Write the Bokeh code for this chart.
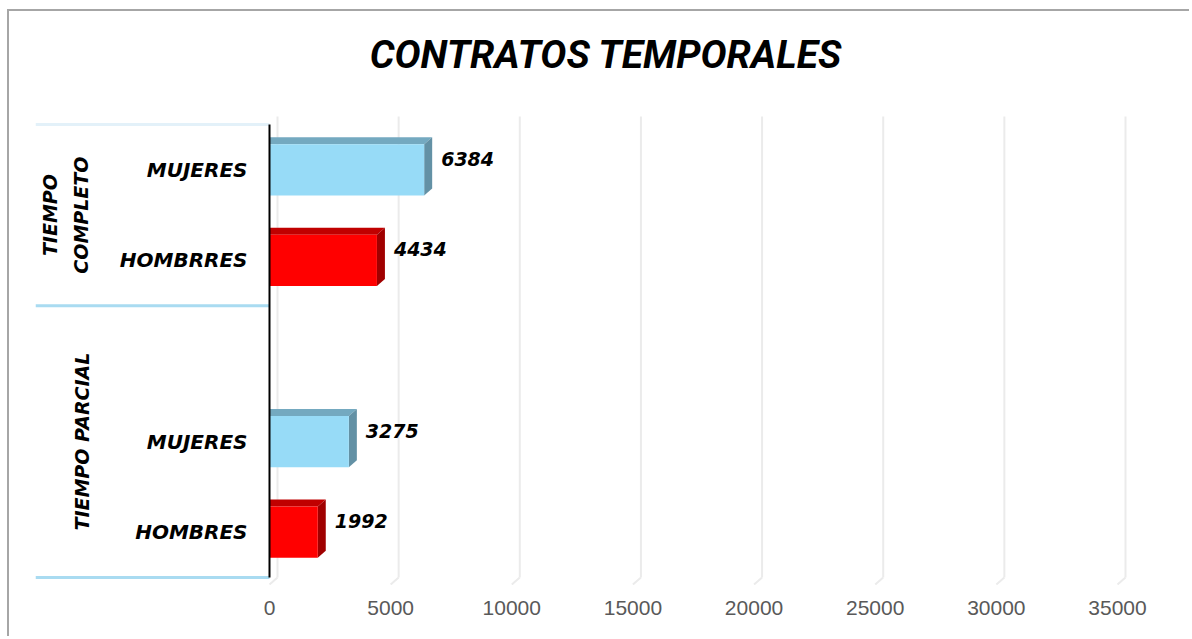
import math
from bokeh.plotting import figure
from bokeh.models import Range1d, FixedTicker, ColumnDataSource
from bokeh.embed import file_html
from bokeh.resources import INLINE
from bokeh.core.properties import value

# ---------------- data ----------------
TITLE = "CONTRATOS TEMPORALES"
GROUPS = ["TIEMPO COMPLETO", "TIEMPO PARCIAL"]
GROUP_LABELS = ["TIEMPO\nCOMPLETO", "TIEMPO PARCIAL"]
# categories of each group, top to bottom ("" = empty row of the original chart)
GROUP_CATS = {
    "TIEMPO COMPLETO": ["MUJERES", "HOMBRRES"],
    "TIEMPO PARCIAL": ["", "MUJERES", "HOMBRES"],
}
BAR_GROUPS = ["TIEMPO COMPLETO", "TIEMPO COMPLETO", "TIEMPO PARCIAL", "TIEMPO PARCIAL"]
BAR_CATS = ["MUJERES", "HOMBRRES", "MUJERES", "HOMBRES"]
BAR_VALUES = [6384, 4434, 3275, 1992]
X_TICKS = [0, 5000, 10000, 15000, 20000, 25000, 30000, 35000]

# ---------------- styles / layout ----------------
FRONT = {"MUJERES": "#97DBF7", "HOMBRRES": "#FF0000", "HOMBRES": "#FF0000"}
TOP = {"MUJERES": "#74A9C0", "HOMBRRES": "#C00000", "HOMBRES": "#C00000"}
SIDE = {"MUJERES": "#6391A5", "HOMBRRES": "#A00000", "HOMBRES": "#A00000"}
LABEL_FONT = "DejaVu Sans"

W, H = 1182, 627
ML, MR, MT, MB = 26, 21, 0, 53
FRAME_W = W - ML - MR
FRAME_H = H - MT - MB
ZERO_PX = 234            # pixel distance from frame left to value 0
AXIS_PX = 848            # pixels from 0 to the last tick
UNITS_PER_PX = X_TICKS[-1] / AXIS_PX
X_START = -ZERO_PX * UNITS_PER_PX
X_END = X_START + FRAME_W * UNITS_PER_PX

# rows, top to bottom
rows = [(g, c) for g in GROUPS for c in GROUP_CATS[g]]
N = len(rows)
SLOT_PX = 90.6
BOTTOM_PAD_PX = 8
Y_START = -BOTTOM_PAD_PX / SLOT_PX
Y_END = Y_START + FRAME_H / SLOT_PX
row_y = {k: N - i - 0.5 for i, k in enumerate(rows)}

BAR_H = 0.565
DX = 8 * UNITS_PER_PX      # 3-D depth, horizontal
DY = 7 / SLOT_PX           # 3-D depth, vertical

p = figure(width=W, height=H,
           x_range=Range1d(X_START, X_END), y_range=Range1d(Y_START, Y_END),
           y_axis_location=None, output_backend="svg", toolbar_location=None,
           min_border_left=ML, min_border_right=MR, min_border_top=MT, min_border_bottom=MB)
p.styles = {"margin-left": "7px", "margin-top": "9px",
            "border-left": "2px solid #A6A6A6", "border-top": "2px solid #A6A6A6"}
p.outline_line_color = None
p.background_fill_color = "white"
p.border_fill_color = "white"
p.xgrid.visible = False
p.ygrid.visible = False

ax = p.xaxis[0]
ax.ticker = FixedTicker(ticks=X_TICKS)
ax.axis_line_color = None
ax.major_tick_line_color = None
ax.minor_tick_line_color = None
ax.major_label_text_font = "Liberation Sans"
ax.major_label_text_font_size = "21px"
ax.major_label_text_color = "#595959"
ax.major_label_standoff = 9

# title, centred above the plot area
TITLE_X = X_START + (FRAME_W / 2 + 3) * UNITS_PER_PX
TITLE_Y = N + 70 / SLOT_PX
p.text(x=[TITLE_X], y=[TITLE_Y], text=[TITLE], text_align="center", text_baseline="middle",
       text_font=value("Roboto"), text_font_size="39px", text_font_style="bold italic",
       text_color="black")

# gridlines (3-D back wall, shifted by the depth)
grid_x = [t + DX for t in X_TICKS]
n_t = len(X_TICKS)
p.segment(x0=grid_x, x1=grid_x, y0=[0] * n_t, y1=[N + 8 / SLOT_PX] * n_t,
          line_color="#EBEBEB", line_width=2)
p.segment(x0=grid_x, x1=X_TICKS, y0=[0] * n_t, y1=[-DY] * n_t,
          line_color="#EBEBEB", line_width=2)

# bars
yc = [row_y[(g, c)] for g, c in zip(BAR_GROUPS, BAR_CATS)]
src = ColumnDataSource(dict(y=yc, v=BAR_VALUES, label=[str(v) for v in BAR_VALUES],
                            color=[FRONT[c] for c in BAR_CATS]))
top_xs, top_ys, side_xs, side_ys = [], [], [], []
for v, y in zip(BAR_VALUES, yc):
    t, b = y + BAR_H / 2, y - BAR_H / 2
    top_xs.append([0, v, v + DX, 0])
    top_ys.append([t, t, t + DY, t + DY])
    side_xs.append([v, v + DX, v + DX, v])
    side_ys.append([b, b + DY, t + DY, t])
p.patches(xs=top_xs, ys=top_ys, fill_color=[TOP[c] for c in BAR_CATS], line_color=None)
p.patches(xs=side_xs, ys=side_ys, fill_color=[SIDE[c] for c in BAR_CATS], line_color=None)
p.hbar(y="y", left=0, right="v", height=BAR_H, fill_color="color", line_color=None, source=src)

# value labels
p.text(x="v", y="y", text="label", source=src,
       x_offset=17, y_offset=-11, text_align="left", text_baseline="middle",
       text_font=value(LABEL_FONT), text_font_size="19px", text_font_style="bold italic",
       text_color="black")

# category labels
cat_keys = [k for k in rows if k[1]]
p.text(x=[0] * len(cat_keys), y=[row_y[k] for k in cat_keys], text=[c for _, c in cat_keys],
       x_offset=-22, text_align="right", text_baseline="middle",
       text_font=value(LABEL_FONT), text_font_size="20px", text_font_style="bold italic",
       text_color="black")

# group labels
group_y = [sum(row_y[(g, c)] for c in GROUP_CATS[g]) / len(GROUP_CATS[g]) for g in GROUPS]
p.text(x=[0] * len(GROUPS), y=group_y, text=GROUP_LABELS, angle=math.pi / 2,
       x_offset=-177, text_align="center", text_baseline="bottom", text_line_height=1.45,
       text_font=value(LABEL_FONT), text_font_size="19px", text_font_style="bold italic",
       text_color="black")

# group separators
bounds = [0]
for g in reversed(GROUPS):
    bounds.append(bounds[-1] + len(GROUP_CATS[g]))
p.segment(x0=[X_START] * len(bounds), x1=[0] * len(bounds), y0=bounds, y1=bounds,
          line_color=["#A9DBF1", "#A9DBF1", "#E3F1F9"], line_width=3)

# vertical axis line
p.segment(x0=[0], x1=[0], y0=[0], y1=[N], line_color="black", line_width=2)

open("out.html", "w").write(file_html(p, INLINE))
